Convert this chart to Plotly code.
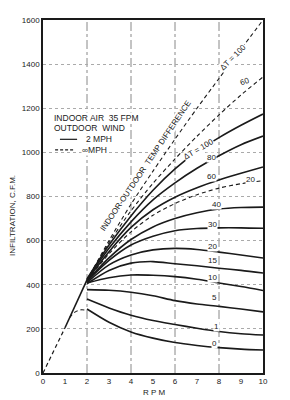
import plotly.graph_objects as go

# ---------------- data ----------------
rpm = [2, 3, 4, 5, 6, 7, 8, 9, 10]

# Outdoor wind 2 MPH (solid), by indoor-outdoor temperature difference
dt100_2mph = [426, 580, 712, 828, 925, 1003, 1067, 1123, 1174]
dt80_2mph = [424, 565, 685, 785, 862, 928, 985, 1035, 1074]
dt60_2mph = [422, 550, 660, 740, 797, 840, 875, 905, 934]
dt40_2mph = [418, 522, 605, 662, 700, 726, 743, 750, 752]
dt30_2mph = [415, 510, 580, 620, 645, 655, 658, 658, 656]
dt20_2mph = [410, 490, 535, 558, 565, 560, 548, 535, 521]
dt15_2mph = [405, 465, 498, 505, 495, 486, 475, 465, 453]
dt10_2mph = [408, 432, 444, 443, 437, 425, 408, 392, 374]
dt5_2mph = [378, 375, 366, 350, 328, 313, 302, 290, 277]
dt1_2mph = [335, 295, 262, 238, 220, 203, 188, 178, 172]
dt0_2mph = [290, 230, 186, 158, 138, 125, 115, 108, 104]

# Outdoor wind "infinite" MPH (dashed)
dt100_inf = [420, 600, 765, 915, 1060, 1200, 1335, 1468, 1600]
dt60_inf = [420, 590, 735, 860, 970, 1073, 1170, 1260, 1342]
dt20_inf = [420, 540, 640, 715, 768, 808, 838, 858, 872]

# common start line from the origin
origin_rpm_dash = [0, 1]
origin_cfm_dash = [0, 205]
origin_rpm_solid = [1, 2]
origin_cfm_solid = [205, 422]

# short dashed branch (0 deg, infinite wind)
branch_rpm = [1.2, 1.45, 1.7, 2.0]
branch_cfm = [250, 276, 286, 284]

solid_series = [dt100_2mph, dt80_2mph, dt60_2mph, dt40_2mph, dt30_2mph,
                dt20_2mph, dt15_2mph, dt10_2mph, dt5_2mph, dt1_2mph, dt0_2mph]
dashed_series = [dt100_inf, dt60_inf, dt20_inf]

x_ticks = list(range(0, 11))
y_ticks = list(range(0, 1601, 200))
grid_rpm = [2, 4, 6, 8]

# ---------------- figure ----------------
INK = "#1a1a1a"
FONT = "Liberation Sans"
fig = go.Figure()

for ys in solid_series:
    fig.add_trace(go.Scatter(x=rpm, y=ys, mode="lines",
                             line=dict(color=INK, width=1.6, shape="spline", smoothing=0.8),
                             hoverinfo="skip"))
for ys in dashed_series:
    fig.add_trace(go.Scatter(x=rpm, y=ys, mode="lines",
                             line=dict(color=INK, width=1.1, dash="4px,3px", shape="spline", smoothing=0.8),
                             hoverinfo="skip"))

fig.add_trace(go.Scatter(x=origin_rpm_dash, y=origin_cfm_dash, mode="lines",
                         line=dict(color=INK, width=1.2, dash="4px,3px"), hoverinfo="skip"))
fig.add_trace(go.Scatter(x=origin_rpm_solid, y=origin_cfm_solid, mode="lines",
                         line=dict(color=INK, width=1.6), hoverinfo="skip"))
fig.add_trace(go.Scatter(x=branch_rpm, y=branch_cfm, mode="lines",
                         line=dict(color=INK, width=1.1, dash="4px,3px", shape="spline"),
                         hoverinfo="skip"))

for gx in grid_rpm:
    fig.add_vline(x=gx, line=dict(color="#888", width=1, dash="dashdot"), layer="below")

fig.update_layout(
    width=290, height=400,
    margin=dict(l=43, r=27, t=20, b=27),
    plot_bgcolor="white", paper_bgcolor="white",
    showlegend=False,
    font=dict(family=FONT, size=8, color=INK),
)
fig.update_xaxes(range=[0, 10], tickvals=x_ticks, ticktext=[str(v) for v in x_ticks],
                 showgrid=False, zeroline=False,
                 showline=True, linecolor=INK, linewidth=1.5, mirror=True,
                 tickfont=dict(size=8, family=FONT, color=INK))
fig.update_yaxes(range=[0, 1600], tickvals=y_ticks, ticktext=[str(v) for v in y_ticks],
                 showgrid=True, gridcolor="#aaa", gridwidth=1, griddash="dot",
                 zeroline=False,
                 showline=True, linecolor=INK, linewidth=1.5, mirror=True,
                 tickfont=dict(size=8, family=FONT, color=INK))

# axis titles
fig.add_annotation(text="INFILTRATION, C.F.M.", xref="paper", yref="paper",
                   x=-0.136, y=0.445, xanchor="center", yanchor="middle",
                   textangle=-90, showarrow=False,
                   font=dict(size=8, family=FONT, color=INK))
fig.add_annotation(text="R P M", xref="paper", yref="paper",
                   x=0.505, y=-0.054, xanchor="center", yanchor="middle", showarrow=False,
                   font=dict(size=8, family=FONT, color=INK))

# legend block
legend_font = dict(size=8.5, family=FONT, color=INK)
fig.add_annotation(text="INDOOR AIR  35 FPM", xref="paper", yref="paper", x=0.045, y=0.722,
                   xanchor="left", yanchor="middle", showarrow=False, font=legend_font,
                   bgcolor="white", borderpad=0)
fig.add_annotation(text="OUTDOOR  WIND", xref="paper", yref="paper", x=0.045, y=0.694,
                   xanchor="left", yanchor="middle", showarrow=False, font=legend_font,
                   bgcolor="white", borderpad=0)
fig.add_annotation(text="2 MPH", xref="paper", yref="paper", x=0.19, y=0.662,
                   xanchor="left", yanchor="middle", showarrow=False, font=legend_font,
                   bgcolor="white", borderpad=0)
fig.add_annotation(text="\u221eMPH", xref="paper", yref="paper", x=0.172, y=0.632,
                   xanchor="left", yanchor="middle", showarrow=False, font=legend_font,
                   bgcolor="white", borderpad=0)
fig.add_shape(type="line", xref="paper", yref="paper", x0=0.077, x1=0.155, y0=0.662, y1=0.662,
              line=dict(color=INK, width=1.2))
fig.add_shape(type="line", xref="paper", yref="paper", x0=0.055, x1=0.145, y0=0.632, y1=0.632,
              line=dict(color=INK, width=1.1, dash="3px,2px"))

# curve labels
labels = [
    ("INDOOR-OUTDOOR  TEMP DIFFERENCE", 4.68, 940, -56),
    ("\u0394T = 100", 8.64, 1428, -45),
    ("60", 9.18, 1322, -20),
    ("\u0394T = 100", 7.05, 1015, -30),
    ("80", 7.68, 977, 0),
    ("60", 7.68, 890, 0),
    ("20", 9.45, 878, 0),
    ("40", 7.9, 764, 0),
    ("30", 7.7, 673, 0),
    ("20", 7.7, 573, 0),
    ("15", 7.7, 510, 0),
    ("10", 7.7, 433, 0),
    ("5", 7.8, 342, 0),
    ("1", 7.9, 211, 0),
    ("0", 7.8, 133, 0),
]
for txt, lx, ly, ang in labels:
    fig.add_annotation(text=txt, x=lx, y=ly, textangle=ang, showarrow=False,
                       xanchor="center", yanchor="middle",
                       font=dict(size=8, family=FONT, color=INK),
                       bgcolor="white", borderpad=0)

fig.write_html("out.html")
